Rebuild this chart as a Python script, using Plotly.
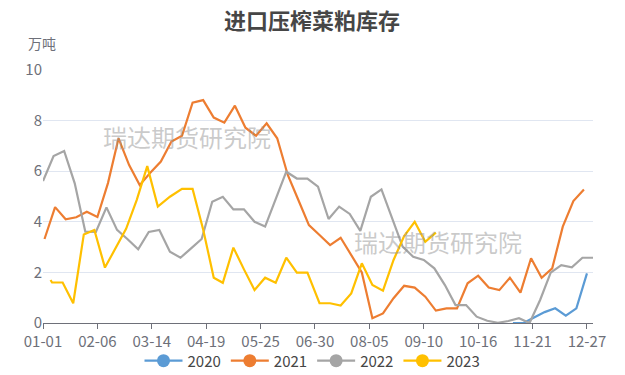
import plotly.graph_objects as go
import pandas as pd

# ---- axis categories (daily MM-DD, non-leap year) ----
all_days = [d.strftime("%m-%d") for d in pd.date_range("2023-01-01", "2023-12-31", freq="D")]
tick_labels = ["01-01", "02-06", "03-14", "04-19", "05-25", "06-30",
               "08-05", "09-10", "10-16", "11-21", "12-27"]

# ---- series ----
dates_2020 = ["11-08", "11-15", "11-22", "11-29", "12-06", "12-13", "12-20", "12-27"]
vals_2020 = [0, 0, 0.22, 0.43, 0.58, 0.29, 0.58, 1.96]

dates_2021 = ["01-02", "01-09", "01-16", "01-23", "01-30", "02-06", "02-13", "02-20", "02-27",
              "03-06", "03-13", "03-20", "03-27", "04-03", "04-10", "04-17", "04-24", "05-01",
              "05-08", "05-15", "05-22", "05-29", "06-05", "06-12", "06-19", "06-26", "07-03",
              "07-10", "07-17", "07-24", "07-31", "08-07", "08-14", "08-21", "08-28", "09-04",
              "09-11", "09-18", "09-25", "10-02", "10-09", "10-16", "10-23", "10-30", "11-06",
              "11-13", "11-20", "11-27", "12-04", "12-11", "12-18", "12-25"]
vals_2021 = [3.32, 4.58, 4.1, 4.18, 4.4, 4.19, 5.53, 7.3, 6.24,
             5.45, 5.94, 6.38, 7.17, 7.4, 8.71, 8.81, 8.12, 7.92,
             8.59, 7.72, 7.4, 7.89, 7.3, 5.85, 4.86, 3.87, 3.48,
             3.08, 3.37, 2.69, 2.0, 0.19, 0.38, 0.98, 1.47, 1.4,
             1.04, 0.49, 0.58, 0.58, 1.57, 1.87, 1.4, 1.3, 1.79,
             1.2, 2.56, 1.79, 2.16, 3.81, 4.82, 5.28]

dates_2022 = ["01-01", "01-08", "01-15", "01-22", "01-29", "02-05", "02-12", "02-19", "02-26",
              "03-05", "03-12", "03-19", "03-26", "04-02", "04-09", "04-16", "04-23", "04-30",
              "05-07", "05-14", "05-21", "05-28", "06-04", "06-11", "06-18", "06-25", "07-02",
              "07-09", "07-16", "07-23", "07-30", "08-06", "08-13", "08-20", "08-27", "09-03",
              "09-10", "09-17", "09-24", "10-01", "10-08", "10-15", "10-22", "10-29", "11-05",
              "11-12", "11-19", "11-26", "12-03", "12-10", "12-17", "12-24", "12-31"]
vals_2022 = [5.61, 6.6, 6.8, 5.52, 3.61, 3.6, 4.57, 3.68, 3.31,
             2.91, 3.6, 3.68, 2.82, 2.58, 2.95, 3.32, 4.79, 4.99,
             4.49, 4.49, 4.0, 3.81, 4.9, 5.98, 5.71, 5.71, 5.39,
             4.11, 4.6, 4.31, 3.64, 4.99, 5.28, 4.13, 3.02, 2.62,
             2.49, 2.16, 1.5, 0.71, 0.71, 0.25, 0.09, 0.01, 0.08,
             0.19, 0.0, 0.91, 1.99, 2.29, 2.2, 2.58, 2.58]

dates_2023 = ["01-06", "01-07", "01-14", "01-21", "01-28", "02-04", "02-11", "02-18", "02-25",
              "03-04", "03-11", "03-18", "03-26", "04-03", "04-10", "04-17", "04-24", "04-30",
              "05-07", "05-14", "05-21", "05-28", "06-04", "06-11", "06-18", "06-25", "07-03",
              "07-10", "07-17", "07-24", "07-31", "08-07", "08-14", "08-21", "08-28", "09-04",
              "09-11", "09-18"]
vals_2023 = [1.7, 1.6, 1.6, 0.78, 3.5, 3.68, 2.19, 2.95, 3.72,
             4.86, 6.2, 4.6, 4.99, 5.3, 5.3, 3.7, 1.79, 1.59,
             2.98, 2.12, 1.3, 1.79, 1.59, 2.58, 1.99, 1.99, 0.78,
             0.78, 0.69, 1.17, 2.36, 1.5, 1.28, 2.49, 3.44, 4.0,
             3.21, 3.57]

series = [
    ("2020", dates_2020, vals_2020, "#5B9BD5"),
    ("2021", dates_2021, vals_2021, "#ED7D31"),
    ("2022", dates_2022, vals_2022, "#A5A5A5"),
    ("2023", dates_2023, vals_2023, "#FFC000"),
]

FONT = "Noto Sans CJK SC"
AXIS_COLOR = "#6E7079"
W, H = 617, 367  # page body has an 8px margin

fig = go.Figure()
for name, xs, ys, color in series:
    fig.add_trace(go.Scatter(x=xs, y=ys, mode="lines", name=name,
                             line=dict(color=color, width=2.2),
                             showlegend=False, hoverinfo="skip"))
for name, xs, ys, color in series:
    fig.add_trace(go.Scatter(x=[None], y=[None], mode="lines+markers", name=name,
                             line=dict(color=color, width=2.2),
                             marker=dict(color=color, size=13, symbol="circle"),
                             showlegend=True))

fig.update_layout(
    width=W, height=H,
    margin=dict(l=35, r=32, t=62, b=52, autoexpand=False),
    paper_bgcolor="white", plot_bgcolor="white",
    font=dict(family=FONT, color=AXIS_COLOR, size=15),
    title=dict(text="<b>进口压榨菜粕库存</b>", x=304 / W, xanchor="center",
               y=1 - 13 / H, yanchor="middle", yref="container",
               font=dict(family=FONT, size=22, color="#464646")),
    xaxis=dict(type="category", categoryorder="array", categoryarray=all_days,
               range=[0, len(all_days) - 1], automargin=False,
               tickmode="array", tickvals=tick_labels, ticktext=tick_labels,
               showgrid=False, zeroline=False,
               showline=True, linecolor=AXIS_COLOR, linewidth=1,
               ticks="outside", ticklen=5, tickcolor=AXIS_COLOR,
               tickfont=dict(family=FONT, size=15, color=AXIS_COLOR)),
    yaxis=dict(range=[0, 10], dtick=2, tick0=0, automargin=False,
               showgrid=True, gridcolor="#E0E6F1", gridwidth=1,
               zeroline=False, showline=False, ticks="",
               tickfont=dict(family=FONT, size=15, color=AXIS_COLOR)),
    legend=dict(orientation="h", x=0.49, xanchor="center", y=-0.15, yanchor="middle",
                font=dict(family=FONT, size=15, color="#464646"),
                itemwidth=38, tracegroupgap=0, bgcolor="rgba(0,0,0,0)"),
    annotations=[
        dict(text="万吨", xref="paper", yref="paper", x=-0.002, y=1.107,
             xanchor="center", yanchor="middle", showarrow=False,
             font=dict(family=FONT, size=14, color=AXIS_COLOR)),
        dict(text="瑞达期货研究院", xref="paper", yref="paper", x=0.262, y=0.739,
             xanchor="center", yanchor="middle", showarrow=False,
             font=dict(family=FONT, size=24, color="rgba(150,150,150,0.5)")),
        dict(text="瑞达期货研究院", xref="paper", yref="paper", x=0.718, y=0.324,
             xanchor="center", yanchor="middle", showarrow=False,
             font=dict(family=FONT, size=24, color="rgba(150,150,150,0.5)")),
    ],
)

fig.write_html("out.html")
